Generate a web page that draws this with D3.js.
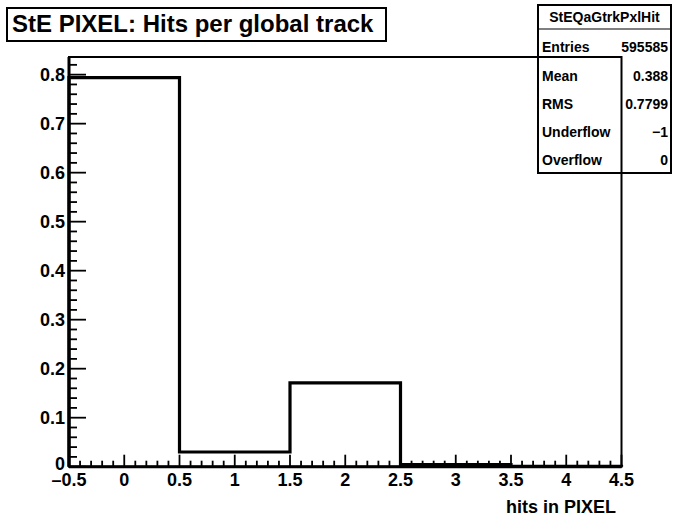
<!DOCTYPE html>
<html><head><meta charset="utf-8">
<script src="https://cdn.jsdelivr.net/npm/d3@7"></script>
<style>body{margin:0;background:#fff}svg{display:block}text{font-family:"Liberation Sans",Arial,sans-serif;font-weight:bold}</style>
</head><body>
<script>
const binEdges = [-0.5, 0.5, 1.5, 2.5, 3.5, 4.5];
const binValues = [0.794, 0.030, 0.171, 0.0045, 0.0005];
const xTicks = [-0.5, 0, 0.5, 1, 1.5, 2, 2.5, 3, 3.5, 4, 4.5];
const yTicks = [0, 0.1, 0.2, 0.3, 0.4, 0.5, 0.6, 0.7, 0.8];
const titleText = "StE PIXEL: Hits per global track";
const xTitle = "hits in PIXEL";
const statsName = "StEQaGtrkPxlHit";
const statsLabels = ["Entries", "Mean", "RMS", "Underflow", "Overflow"];
const statsValues = ["595585", "0.388", "0.7799", "\u22121", "0"];

const W = 673, H = 521;
const svg = d3.select("body").append("svg").attr("width", W).attr("height", H);
const L = 69, R = 621.5, T = 57, B = 466.7;
const x = d3.scaleLinear().domain([-0.5, 4.5]).range([L, R]);
const y = d3.scaleLinear().domain([0, 0.836]).range([B, T]);

// histogram
const pts = [];
binValues.forEach((v, i) => {
  pts.push([x(binEdges[i]), y(v)]);
  pts.push([x(binEdges[i + 1]), y(v)]);
});
const hp = [[x(binEdges[0]), y(0)], ...pts, [x(binEdges[binEdges.length - 1]), y(0)]];
svg.append("path").attr("d", d3.line()(hp)).attr("fill", "none")
  .attr("stroke", "#000").attr("stroke-width", 3.2).attr("stroke-linejoin", "miter");

// stats box (drawn before frame; frame overlays)
const sb = {x0: 538, x1: 671, y0: 5, y1: 173, hy: 29};
svg.append("rect").attr("x", sb.x0).attr("y", sb.y0).attr("width", sb.x1 - sb.x0).attr("height", sb.y1 - sb.y0)
  .attr("fill", "#fff").attr("stroke", "#000").attr("stroke-width", 2);
svg.append("line").attr("x1", sb.x0).attr("x2", sb.x1).attr("y1", sb.hy).attr("y2", sb.hy).attr("stroke", "#000").attr("stroke-width", 1.2);
svg.append("text").attr("x", (sb.x0 + sb.x1) / 2).attr("y", 22).attr("text-anchor", "middle")
  .attr("font-size", 14).text(statsName);
const rowY = [52, 81, 109, 137, 165];
statsLabels.forEach((s, i) => {
  svg.append("text").attr("x", sb.x0 + 4).attr("y", rowY[i]).attr("font-size", 14).text(s);
  svg.append("text").attr("x", sb.x1 - 3).attr("y", rowY[i]).attr("text-anchor", "end").attr("font-size", 14).text(statsValues[i]);
});

// frame
svg.append("rect").attr("x", L).attr("y", T).attr("width", R - L).attr("height", B - T)
  .attr("fill", "none").attr("stroke", "#000").attr("stroke-width", 2);

// x axis
const xMinor = d3.range(-0.5, 4.5001, 0.1);
const xg = svg.append("g");
xMinor.forEach(v => {
  const major = Math.abs(v * 2 - Math.round(v * 2)) < 1e-6;
  xg.append("line").attr("x1", x(v)).attr("x2", x(v)).attr("y1", B).attr("y2", B - (major ? 12 : 6))
    .attr("stroke", "#000").attr("stroke-width", 1.8);
});
xg.append("line").attr("x1", L).attr("x2", R).attr("y1", B).attr("y2", B).attr("stroke", "#000").attr("stroke-width", 3);
xTicks.forEach(v => {
  xg.append("text").attr("x", x(v)).attr("y", 486).attr("text-anchor", "middle").attr("font-size", 18)
    .text(v < 0 ? "\u2013" + Math.abs(v) : String(v));
});
svg.append("text").attr("x", 616).attr("y", 513).attr("text-anchor", "end").attr("font-size", 18).text(xTitle);

// y axis
const yMinor = d3.range(0, 0.8361, 0.02);
const yg = svg.append("g");
yMinor.forEach(v => {
  const major = Math.abs(v * 10 - Math.round(v * 10)) < 1e-6;
  yg.append("line").attr("x1", L).attr("x2", L + (major ? 17 : 8)).attr("y1", y(v)).attr("y2", y(v))
    .attr("stroke", "#000").attr("stroke-width", 1.8);
});
yg.append("line").attr("x1", L).attr("x2", L).attr("y1", T).attr("y2", B).attr("stroke", "#000").attr("stroke-width", 3);
yTicks.forEach(v => {
  yg.append("text").attr("x", 65).attr("y", v === 0 ? y(v) + 3 : y(v) + 6.5).attr("text-anchor", "end").attr("font-size", 18)
    .text(String(v));
});

// title box
svg.append("rect").attr("x", 7).attr("y", 8).attr("width", 379).attr("height", 33)
  .attr("fill", "#fff").attr("stroke", "#000").attr("stroke-width", 2);
svg.append("text").attr("x", 12).attr("y", 32).attr("font-size", 24).text(titleText);
</script>
</body></html>
